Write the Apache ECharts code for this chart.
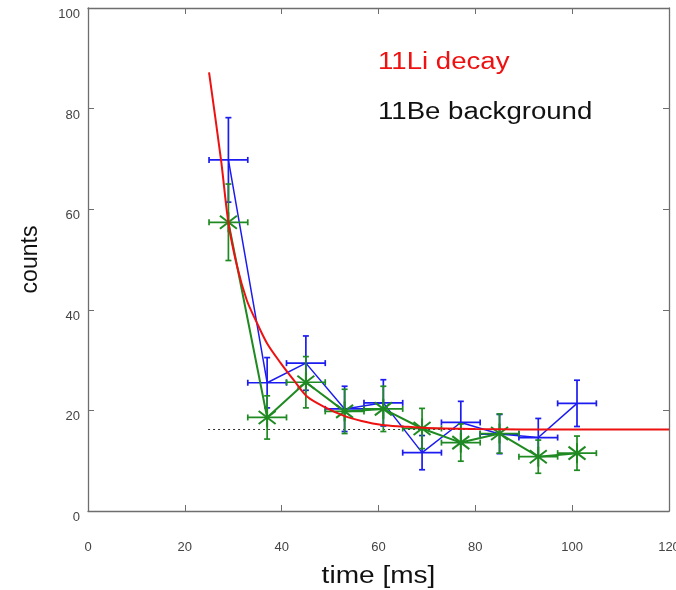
<!DOCTYPE html>
<html>
<head>
<meta charset="utf-8">
<script src="https://cdn.jsdelivr.net/npm/echarts@6/dist/echarts.min.js"></script>
<style>
html,body{margin:0;padding:0;background:#fff;}
#chart{width:676px;height:590px;}
</style>
</head>
<body>
<div id="chart"></div>
<script>
// ---- data ----
const timeBins = [29, 37, 45, 53, 61, 69, 77, 85, 93, 101];
const binHalfWidth = [4, 4, 4, 4, 4, 4, 4, 4, 4, 4];
const blueCounts = [69.8, 25.5, 29.4, 20.3, 21.5, 11.6, 17.6, 15.3, 14.6, 21.4];
const blueErr = [8.4, 5.0, 5.4, 4.5, 4.6, 3.4, 4.2, 3.9, 3.8, 4.6];
const greenCounts = [57.4, 18.6, 25.6, 19.8, 20.3, 16.4, 13.6, 15.4, 10.8, 11.5];
const greenErr = [7.6, 4.3, 5.1, 4.4, 4.5, 4.0, 3.7, 3.9, 3.3, 3.4];
const fitTime = [25, 27.5, 29, 30.8, 32.8, 34.6, 37, 39.8, 42.5, 45.3, 49, 52.9, 56.5, 60.8, 65, 70, 80, 90, 100, 110, 120];
const fitCounts = [87.2, 69.6, 57.3, 48.6, 41.9, 38.0, 33.3, 29.4, 26.0, 22.7, 20.6, 18.9, 17.9, 17.1, 16.8, 16.5, 16.3, 16.2, 16.2, 16.2, 16.2];
const bgTime = [24.8, 120];
const bgCounts = [16.2, 16.2];
const xTicks = [0, 20, 40, 60, 80, 100, 120];
const yTicks = [0, 20, 40, 60, 80, 100];
const legendTexts = ['11Li decay', '11Be background'];
const xAxisTitle = 'time [ms]';
const yAxisTitle = 'counts';

const BLUE = '#1c1cf0';
const GREEN = '#1f8a22';
const RED = '#ee1111';
const AXIS = '#6e6e6e';
const FONT = '"Liberation Sans", Arial, sans-serif';

function zip(xs, ys) { return xs.map((x, i) => [x, ys[i]]); }
function errData(xs, ys, exs, eys) { return xs.map((x, i) => [x, ys[i], exs[i], eys[i]]); }

function errRenderer(color, star) {
  return function (params, api) {
    const x = api.value(0), y = api.value(1), ex = api.value(2), ey = api.value(3);
    const c = api.coord([x, y]);
    const l = api.coord([x - ex, y]);
    const r = api.coord([x + ex, y]);
    const t = api.coord([x, y + ey]);
    const b = api.coord([x, y - ey]);
    const cap = 3;
    const style = { stroke: color, lineWidth: 1.7 };
    const seg = (x1, y1, x2, y2, w) => ({ type: 'line', shape: { x1, y1, x2, y2 }, style: w ? { stroke: color, lineWidth: w } : style });
    const children = [
      seg(l[0], l[1], r[0], r[1]),
      seg(t[0], t[1], b[0], b[1]),
      seg(l[0], l[1] - cap, l[0], l[1] + cap),
      seg(r[0], r[1] - cap, r[0], r[1] + cap),
      seg(t[0] - cap, t[1], t[0] + cap, t[1]),
      seg(b[0] - cap, b[1], b[0] + cap, b[1])
    ];
    if (star) {
      const s = 10, dx = 8.5, dy = 6.5;
      children.push(seg(c[0], c[1] - s, c[0], c[1] + s, 2));
      children.push(seg(c[0] - dx, c[1] - dy, c[0] + dx, c[1] + dy, 2));
      children.push(seg(c[0] - dx, c[1] + dy, c[0] + dx, c[1] - dy, 2));
    }
    return { type: 'group', children };
  };
}

const chart = echarts.init(document.getElementById('chart'), null, { renderer: 'canvas' });
const gridPos = { left: 88, right: 7, top: 8, bottom: 79 };
const labelStyle = { color: '#444', fontSize: 13, fontFamily: FONT };

chart.setOption({
  backgroundColor: '#fff',
  animation: false,
  grid: Object.assign({ containLabel: false, outerBoundsMode: 'none' }, gridPos),
  xAxis: [{
    type: 'value', min: xTicks[0], max: xTicks[xTicks.length - 1], interval: xTicks[1] - xTicks[0],
    position: 'bottom',
    axisLine: { show: true, onZero: false, lineStyle: { color: AXIS, width: 1.3 } },
    axisTick: { show: true, inside: true, length: 6, lineStyle: { color: AXIS } },
    axisLabel: Object.assign({ margin: 30, showMinLabel: true, showMaxLabel: true, hideOverlap: false }, labelStyle),
    splitLine: { show: false }
  }, {
    type: 'value', min: xTicks[0], max: xTicks[xTicks.length - 1], interval: xTicks[1] - xTicks[0],
    position: 'top',
    axisLine: { show: true, onZero: false, lineStyle: { color: AXIS, width: 1.3 } },
    axisTick: { show: true, inside: true, length: 6, lineStyle: { color: AXIS } },
    axisLabel: { show: false },
    splitLine: { show: false }
  }],
  yAxis: [{
    type: 'value', min: yTicks[0], max: yTicks[yTicks.length - 1], interval: yTicks[1] - yTicks[0],
    position: 'left',
    name: yAxisTitle, nameLocation: 'middle', nameGap: 46,
    nameTextStyle: { color: '#111', fontSize: 23, fontFamily: FONT },
    axisLine: { show: true, onZero: false, lineStyle: { color: AXIS, width: 1.3 } },
    axisTick: { show: true, inside: true, length: 6, lineStyle: { color: AXIS } },
    axisLabel: Object.assign({ margin: 8, showMinLabel: true, showMaxLabel: true, verticalAlign: 'top', hideOverlap: false }, labelStyle),
    splitLine: { show: false }
  }, {
    type: 'value', min: yTicks[0], max: yTicks[yTicks.length - 1], interval: yTicks[1] - yTicks[0],
    position: 'right',
    axisLine: { show: true, onZero: false, lineStyle: { color: AXIS, width: 1.3 } },
    axisTick: { show: true, inside: true, length: 6, lineStyle: { color: AXIS } },
    axisLabel: { show: false },
    splitLine: { show: false }
  }],
  graphic: [
    { type: 'text', x: 378, y: 63, scaleX: 1.2, originX: 0, originY: 0,
      style: { text: legendTexts[0], fill: RED, font: '23px ' + FONT, textVerticalAlign: 'middle' } },
    { type: 'text', x: 378, y: 113, scaleX: 1.2, originX: 0, originY: 0,
      style: { text: legendTexts[1], fill: '#111', font: '23px ' + FONT, textVerticalAlign: 'middle' } },
    { type: 'text', x: 378.5, y: 577, scaleX: 1.22, originX: 0, originY: 0,
      style: { text: xAxisTitle, fill: '#111', font: '23px ' + FONT, textAlign: 'center', textVerticalAlign: 'middle' } }
  ],
  series: [
    {
      type: 'line', data: zip(bgTime, bgCounts), symbol: 'none', z: 1,
      lineStyle: { color: '#333', width: 1, type: [2, 3] }
    },
    {
      type: 'line', data: zip(timeBins, blueCounts), symbol: 'none', z: 2,
      lineStyle: { color: BLUE, width: 1.5 }
    },
    {
      type: 'custom', data: errData(timeBins, blueCounts, binHalfWidth, blueErr), z: 2,
      renderItem: errRenderer(BLUE, false), encode: { x: 0, y: 1 }
    },
    {
      type: 'line', data: zip(timeBins, greenCounts), symbol: 'none', z: 3,
      lineStyle: { color: GREEN, width: 2 }
    },
    {
      type: 'custom', data: errData(timeBins, greenCounts, binHalfWidth, greenErr), z: 3,
      renderItem: errRenderer(GREEN, true), encode: { x: 0, y: 1 }
    },
    {
      type: 'line', data: zip(fitTime, fitCounts), symbol: 'none', smooth: 0.3, z: 4,
      lineStyle: { color: RED, width: 2 }
    }
  ]
});
</script>
</body>
</html>
